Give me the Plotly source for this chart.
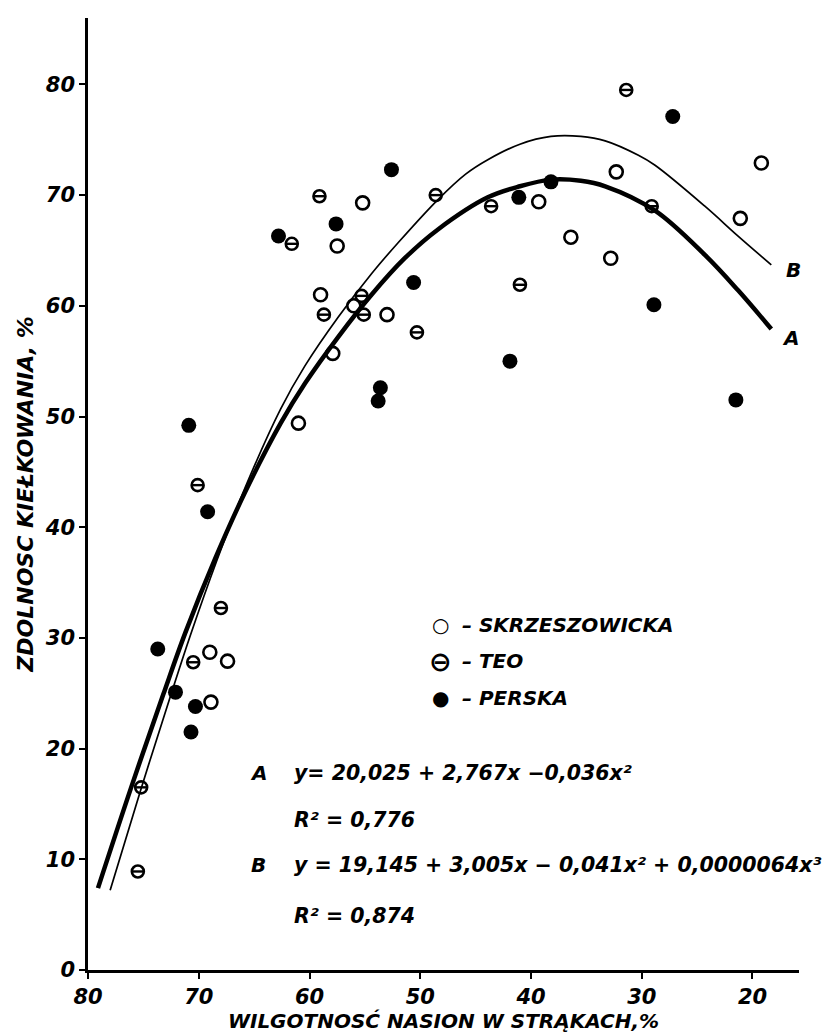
import plotly.graph_objects as go

# ---- data ----
skrz_x = [69.0, 67.4, 68.9, 55.2, 57.5, 59.0, 56.0, 53.0, 57.9, 61.0, 32.3, 39.3, 36.4, 32.8, 19.2, 21.1]
skrz_y = [28.7, 27.9, 24.2, 69.3, 65.4, 61.0, 60.0, 59.2, 55.7, 49.4, 72.1, 69.4, 66.2, 64.3, 72.9, 67.9]

teo_x = [75.2, 75.5, 70.1, 68.0, 70.5, 59.1, 61.6, 55.3, 58.7, 55.1, 31.4, 48.6, 43.6, 41.0, 50.3, 29.1]
teo_y = [16.5, 8.9, 43.8, 32.7, 27.8, 69.9, 65.6, 60.9, 59.2, 59.2, 79.5, 70.0, 69.0, 61.9, 57.6, 69.0]

persk_x = [70.9, 69.2, 73.7, 72.1, 70.3, 70.7, 52.6, 57.6, 62.8, 53.6, 53.8, 38.2, 41.1, 50.6, 41.9, 27.2, 28.9, 21.5]
persk_y = [49.2, 41.4, 29.0, 25.1, 23.8, 21.5, 72.3, 67.4, 66.3, 52.6, 51.4, 71.2, 69.8, 62.1, 55.0, 77.1, 60.1, 51.5]

curveA_x = [79.1, 76.1, 73.2, 71.2, 68.5, 65.8, 62.6, 60.4, 57.4, 54.4, 51.4, 48.4, 43.9, 41.0, 38.2, 35.5, 33.3, 28.8, 24.3, 21.3, 18.3]
curveA_y = [7.4, 16.5, 24.9, 30.5, 37.2, 43.2, 49.4, 53.0, 57.2, 61.0, 64.3, 66.9, 69.8, 70.8, 71.4, 71.3, 70.8, 68.6, 64.6, 61.4, 57.9]

curveB_x = [78.0, 75.2, 72.5, 70.8, 68.4, 65.8, 62.6, 60.4, 57.4, 54.4, 52.0, 48.4, 45.9, 43.9, 41.0, 38.2, 35.5, 33.3, 30.3, 28.8, 24.3, 21.3, 18.3]
curveB_y = [7.2, 16.4, 24.9, 30.1, 36.9, 43.6, 50.7, 54.6, 59.0, 62.9, 65.7, 69.6, 71.9, 73.2, 74.6, 75.3, 75.3, 74.9, 73.6, 72.7, 69.0, 66.3, 63.7]

x_ticks = [80, 70, 60, 50, 40, 30, 20]
y_ticks = [0, 10, 20, 30, 40, 50, 60, 70, 80]

legend_symbols = ["○", "⊖", "●"]
legend_names = ["– SKRZESZOWICKA", "– TEO", "– PERSKA"]
eq_lines = [
    ("A", "y= 20,025 + 2,767x −0,036x²"),
    ("", "R² = 0,776"),
    ("B", "y = 19,145 + 3,005x − 0,041x² + 0,0000064x³"),
    ("", "R² = 0,874"),
]

FONT = "DejaVu Sans"
W, H = 833, 1032
L, R, T, B = 80, 42, 10, 70


def px(xp):
    return (xp - L) / (W - L - R)


def py(yp):
    return (H - B - yp) / (H - T - B)


def f(size, italic=True):
    return dict(family=FONT, size=size, color="black",
                style="italic" if italic else "normal", weight="bold")


fig = go.Figure()

fig.add_trace(go.Scatter(x=curveB_x, y=curveB_y, mode="lines",
                         line=dict(color="black", width=1.7, shape="spline", smoothing=1.0),
                         showlegend=False, hoverinfo="skip"))
fig.add_trace(go.Scatter(x=curveA_x, y=curveA_y, mode="lines",
                         line=dict(color="black", width=4.5, shape="spline", smoothing=1.0),
                         showlegend=False, hoverinfo="skip"))

fig.add_trace(go.Scatter(x=skrz_x, y=skrz_y, mode="markers", name="SKRZESZOWICKA",
                         marker=dict(symbol="circle-open", size=13, color="black",
                                     line=dict(width=2.6, color="black")),
                         showlegend=False))
fig.add_trace(go.Scatter(x=teo_x, y=teo_y, mode="markers", name="TEO",
                         marker=dict(symbol="circle-open", size=12, color="black",
                                     line=dict(width=2.6, color="black")),
                         showlegend=False))
fig.add_trace(go.Scatter(x=teo_x, y=teo_y, mode="markers", name="TEO bar",
                         marker=dict(symbol="line-ew-open", size=8, color="black",
                                     line=dict(width=2.4, color="black")),
                         showlegend=False, hoverinfo="skip"))
fig.add_trace(go.Scatter(x=persk_x, y=persk_y, mode="markers", name="PERSKA",
                         marker=dict(symbol="circle", size=15, color="black"),
                         showlegend=False))

ann = []
# curve labels
ann.append(dict(x=px(776), y=py(262), xref="paper", yref="paper", text="B",
                xanchor="left", yanchor="middle", showarrow=False, font=f(20)))
ann.append(dict(x=px(772), y=py(330), xref="paper", yref="paper", text="A",
                xanchor="left", yanchor="middle", showarrow=False, font=f(20)))

# legend
leg_y = [617, 653, 690]
sym_sizes = [20, 27, 20]
for s, n, yy, ss in zip(legend_symbols, legend_names, leg_y, sym_sizes):
    ann.append(dict(x=px(432), y=py(yy), xref="paper", yref="paper", text=s,
                    xanchor="center", yanchor="middle", showarrow=False,
                    font=f(ss, italic=False)))
    ann.append(dict(x=px(452), y=py(yy), xref="paper", yref="paper", text=n,
                    xanchor="left", yanchor="middle", showarrow=False, font=f(20)))

# equations
eq_y = [765, 812, 857, 908]
for (lab, t), yy in zip(eq_lines, eq_y):
    if lab:
        ann.append(dict(x=px(250), y=py(yy), xref="paper", yref="paper", text=lab,
                        xanchor="center", yanchor="middle", showarrow=False, font=f(20)))
    ann.append(dict(x=px(284), y=py(yy), xref="paper", yref="paper", text=t,
                    xanchor="left", yanchor="middle", showarrow=False, font=f(20.5)))

fig.update_layout(
    width=W, height=H,
    margin=dict(l=L, r=R, t=T, b=B, autoexpand=False),
    paper_bgcolor="white", plot_bgcolor="white",
    annotations=ann,
    xaxis=dict(range=[80, 15.8], tickvals=x_ticks, ticks="outside", ticklen=6,
               tickwidth=2, tickcolor="black", showline=True, linecolor="black",
               linewidth=2.5, showgrid=False, zeroline=False, automargin=False,
               tickfont=f(21),
               title=dict(text="WILGOTNOSĆ NASION W STRĄKACH,%", standoff=3, font=f(20))),
    yaxis=dict(range=[0, 86], tickvals=y_ticks, ticks="outside", ticklen=6,
               tickwidth=2, tickcolor="black", showline=True, linecolor="black",
               linewidth=2.5, showgrid=False, zeroline=False, automargin=False,
               tickfont=f(21),
               title=dict(text="ZDOLNOSC KIEŁKOWANIA, %", standoff=6, font=f(22))),
)

fig.write_html("out.html")
